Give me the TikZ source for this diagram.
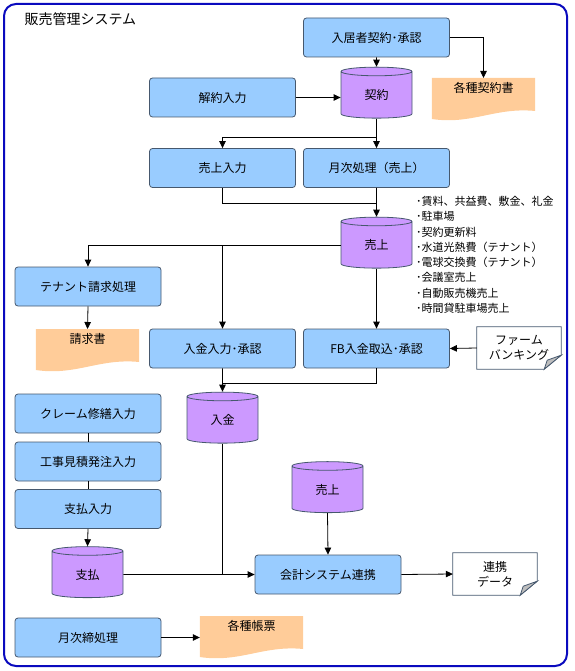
\documentclass[tikz,border=0pt]{standalone}
\usepackage{fontspec}
\setmainfont{Noto Sans CJK JP}
\usetikzlibrary{shapes.geometric,arrows.meta,calc,backgrounds}
\definecolor{procblue}{RGB}{153,204,255}
\definecolor{procedge}{RGB}{70,88,110}
\definecolor{dbviolet}{RGB}{204,153,255}
\definecolor{docorange}{RGB}{255,204,153}
\definecolor{frameblue}{RGB}{10,10,190}
\definecolor{foldgray}{RGB}{190,190,190}

\begin{document}
\begin{tikzpicture}[x=1pt, y=-1pt,
        every node/.style={font=\fontsize{12}{14}\selectfont},
        proc/.style={rectangle, draw=procedge, fill=procblue, rounded corners=3pt,
            minimum width=146pt, minimum height=39pt, inner sep=0pt, line width=0.8pt},
        cyl/.style={cylinder, shape border rotate=90, aspect=0.36, draw=procedge,
            fill=dbviolet, minimum width=71pt, minimum height=51pt, inner sep=0pt,
            line width=0.8pt},
        docbox/.style={rectangle, anchor=north, minimum width=103pt,
            minimum height=20pt, inner sep=0pt},
        docfill/.style={fill=docorange},
        notebox/.style={rectangle, minimum width=84pt, minimum height=42pt,
            align=center, inner sep=0pt, font=\fontsize{12}{15}\selectfont},
        noteedge/.style={draw=procedge, fill=white, line width=0.8pt},
        arrow/.style={-{Triangle[length=7pt,width=6.5pt]}, line width=0.8pt},
        link/.style={line width=0.8pt}
      ]
      \useasboundingbox (0,0) rectangle (574,671);
      \draw[frameblue, line width=2pt, rounded corners=12pt] (4,4) rectangle (567,666);
      \node[anchor=west, font=\fontsize{14}{16}\selectfont] (title) at (21,19) {販売管理システム};
      % contracts
      \node[proc] (nyukyo) at (376.5,37.5) {入居者契約･承認};
      \node[proc] (kaiyaku) at (222.5,97.5) {解約入力};
      \node[cyl] (keiyaku) at (376.5,95) {契約};
      \node[docbox] (keiyakusho) at (483.5,78) {各種契約書};
      % sales
      \node[proc] (uriagenyu) at (222.5,168) {売上入力};
      \node[proc] (getsuji) at (376.5,168) {月次処理（売上）};
      \node[cyl] (uriage) at (376.5,245) {売上};
      \node[anchor=north west, align=left, inner sep=0pt,
        font=\fontsize{11}{15.3}\selectfont] (items) at (416,196)
      {･賃料、共益費、敷金、礼金\\･駐車場\\･契約更新料\\･水道光熱費（テナント）\\
        ･電球交換費（テナント）\\･会議室売上\\･自動販売機売上\\･時間貸駐車場売上};
      \node[proc] (tenant) at (88,286.5) {テナント請求処理};
      \node[docbox] (seikyu) at (87.5,329) {請求書};
      % receipts
      \node[proc] (nyukinnyu) at (222.5,348.5) {入金入力･承認};
      \node[proc] (fb) at (376.5,348.5) {FB入金取込･承認};
      \node[notebox] (firm) at (519,348) {ファーム\\バンキング};
      \node[cyl] (nyukin) at (222.5,420) {入金};
      % payments
      \node[proc] (claim) at (88,413.5) {クレーム修繕入力};
      \node[proc] (koji) at (88,461.5) {工事見積発注入力};
      \node[proc] (shiharainyu) at (88,509) {支払入力};
      \node[cyl] (shiharai) at (87.5,574.5) {支払};
      % accounting
      \node[cyl] (uriage2) at (327.5,489.5) {売上};
      \node[proc] (kaikei) at (328,574.5) {会計システム連携};
      \node[notebox] (renkei) at (495,574) {連携\\データ};
      \node[proc] (shime) at (88,637.5) {月次締処理};
      \node[docbox] (chohyo) at (251.5,616) {各種帳票};

      \begin{scope}[on background layer]
        \foreach \d in {keiyakusho,seikyu,chohyo}{
            \fill[docfill] (\d.north west) -- (\d.north east) -- ++(0,33)
            .. controls +(-40,-4) and +(40,6) .. ($(\d.north west)+(0,41)$) -- cycle;
          }
        \foreach \n in {firm,renkei}{
            \path[noteedge] (\n.north west) -- (\n.north east)
            -- ($(\n.south east)+(0,-14)$) -- ($(\n.south east)+(-17,0)$)
            -- (\n.south west) -- cycle;
            \path[noteedge, fill=foldgray] ($(\n.south east)+(0,-14)$)
            -- ($(\n.south east)+(-17,0)$) -- ($(\n.south east)+(-14,-9)$) -- cycle;
          }
      \end{scope}

      \coordinate (split1) at (376.5,137);
      \coordinate (join1) at (376.5,203);
      \coordinate (join2) at (222.5,383);

      \draw[arrow] (nyukyo.south) -- (keiyaku.north);
      \draw[arrow] (nyukyo.east) -| (keiyakusho.north);
      \draw[arrow] (kaiyaku.east) -- (kaiyaku.east -| keiyaku.west);
      \draw[arrow] (keiyaku.south) -- (getsuji.north);
      \draw[arrow] (split1) -| (uriagenyu.north);
      \draw[link] (uriagenyu.south) |- (join1);
      \draw[arrow] (getsuji.south) -- (uriage.north);
      \draw[arrow] (uriage.west) -| (tenant.north);
      \draw[arrow] (uriage.west -| nyukinnyu.north) -- (nyukinnyu.north);
      \draw[arrow] (uriage.south) -- (fb.north);
      \draw[arrow] (tenant.south) -- (seikyu.north);
      \draw[arrow] (firm.west) -- (fb.east);
      \draw[arrow] (nyukinnyu.south) -- (nyukin.north);
      \draw[link] (fb.south) |- (join2);
      \draw[link] (nyukin.south) -- (nyukin.south |- kaikei.west);
      \draw[link] (claim.south) -- (koji.north);
      \draw[link] (koji.south) -- (shiharainyu.north);
      \draw[arrow] (shiharainyu.south) -- (shiharai.north);
      \draw[arrow] (shiharai.east) -- (kaikei.west);
      \draw[arrow] (uriage2.south) -- (kaikei.north);
      \draw[arrow] (kaikei.east) -- (renkei.west);
      \draw[arrow] (shime.east) -- (shime.east -| chohyo.west);
    \end{tikzpicture}
\end{document}
